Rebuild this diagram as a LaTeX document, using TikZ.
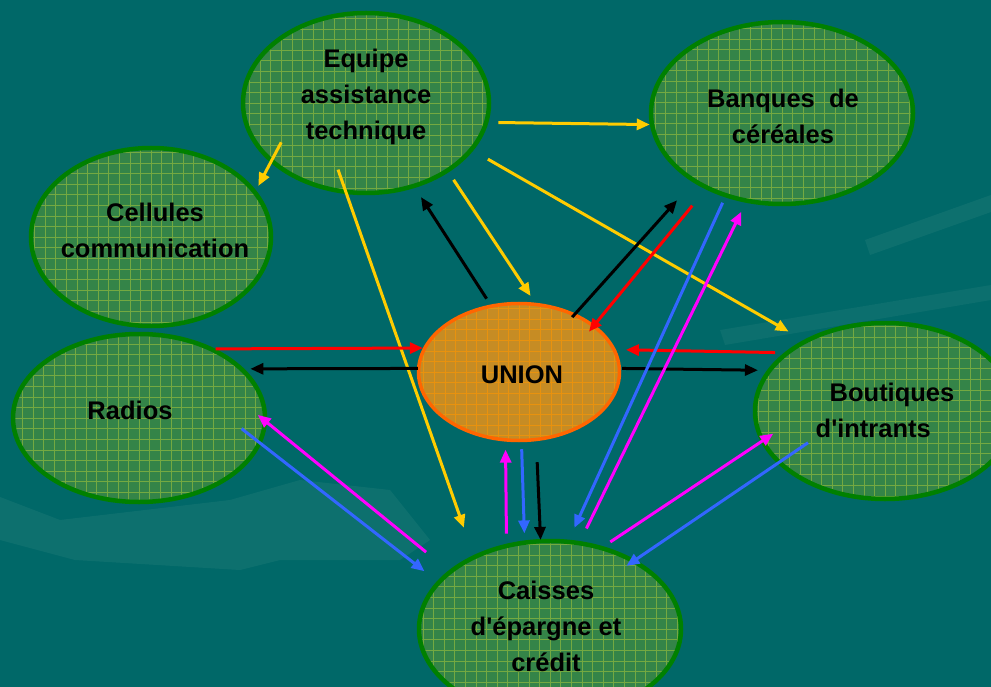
\documentclass[tikz,border=0pt]{standalone}
\usepackage{fontspec}
\setmainfont{Liberation Sans}
\usetikzlibrary{shapes.geometric,arrows.meta}

\begin{document}
\begin{tikzpicture}[x=1pt,y=-1pt,
  bubble/.style={ellipse, draw=bordgreen, line width=4.5pt, fill=fillgreen, inner sep=0pt,
    path picture={\draw[gridgreen, line width=0.5pt, opacity=0.55] (path picture bounding box.south west)
      grid[step=10.6pt] (path picture bounding box.north east);}},
  hub/.style={bubble, draw=bordorange, line width=3.5pt, fill=fillorange,
    path picture={\draw[gridorange, line width=0.6pt, opacity=0.6] (path picture bounding box.south west)
      grid[step=10.6pt] (path picture bounding box.north east);}},
  lbl/.style={align=center, font=\fontsize{25.5}{36}\selectfont\bfseries},
  link/.style={line width=3pt, -{Triangle[length=13pt,width=11pt]}}]
  \definecolor{teal}{RGB}{0,104,104}
  \definecolor{swoosh}{RGB}{40,128,124}
  \definecolor{fillgreen}{RGB}{52,132,72}
  \definecolor{bordgreen}{RGB}{0,128,0}
  \definecolor{gridgreen}{RGB}{170,200,60}
  \definecolor{fillorange}{RGB}{198,140,36}
  \definecolor{bordorange}{RGB}{255,102,0}
  \definecolor{gridorange}{RGB}{255,150,0}
  \definecolor{ylw}{RGB}{255,204,0}
  \definecolor{blu}{RGB}{51,102,255}
  \definecolor{mag}{RGB}{255,0,255}

  \useasboundingbox (0,0) rectangle (991,687);
  \clip (0,0) rectangle (991,687);
  \fill[teal] (0,0) rectangle (991,687);
  \fill[swoosh, opacity=0.35] (0,497) -- (60,520) -- (230,500) -- (300,480) -- (390,490)
    -- (430,540) -- (400,560) -- (280,560) -- (240,570) -- (75,560) -- (0,540) -- cycle;
  \fill[swoosh, opacity=0.35] (865,240) -- (991,195) -- (991,212) -- (870,255) -- cycle;
  \fill[swoosh, opacity=0.3] (720,330) -- (991,285) -- (991,300) -- (725,345) -- cycle;

  \node[bubble, minimum width=246pt, minimum height=180pt] (equipe) at (366,103) {};
  \node[bubble, minimum width=262pt, minimum height=182pt] (banques) at (782,113) {};
  \node[bubble, minimum width=240pt, minimum height=178pt] (cellules) at (151,237) {};
  \node[bubble, minimum width=252pt, minimum height=168pt] (radios) at (139,418) {};
  \node[hub, minimum width=201pt, minimum height=137pt] (union) at (519,372) {};
  \node[bubble, minimum width=260pt, minimum height=176pt] (boutiques) at (885,411) {};
  \node[bubble, minimum width=262pt, minimum height=176pt] (caisses) at (550,629) {};

  \node[lbl] (equipe-t) at (366,97) {Equipe\\assistance\\technique};
  \node[lbl] (banques-t) at (783,116) {Banques~~de\\céréales};
  \node[lbl] (cellules-t) at (155,230) {Cellules\\communication};
  \node[lbl] (radios-t) at (130,410) {Radios};
  \node[lbl] (union-t) at (522,375) {UNION};
  \node[lbl, align=left] (boutiques-t) at (885,410) {\hspace*{14pt}Boutiques\\d\textquotesingle intrants};
  \node[lbl] (caisses-t) at (546,626) {Caisses\\d\textquotesingle épargne et\\crédit};

  \draw[link, ylw, shorten <=-23pt, shorten >=5pt] (equipe.212) -- (cellules.24);
  \draw[link, ylw, shorten <=10pt] (equipe.351) -- (banques.185);
  \draw[link, ylw, shorten <=9pt, shorten >=8pt] (equipe.320) -- (union.77);
  \draw[link, ylw, shorten <=17pt, shorten >=17pt] (equipe.336) -- (boutiques.139);
  \draw[link, ylw, shorten <=-26pt, shorten >=29pt] (equipe.258) -- (caisses.136);

  \draw[link, black, shorten <=7pt, shorten >=11pt] (union.113) -- (equipe.300);
  \draw[link, black, shorten <=-5pt, shorten >=24pt] (union.46) -- (banques.218);
  \draw[link, black, shorten <=-1pt, shorten >=6pt] (union.178) -- (radios.25);
  \draw[link, black, shorten <=1pt, shorten >=9pt] (union.2) -- (boutiques.161);
  \draw[link, black, shorten <=21pt, shorten >=-1pt] (union.284) -- (caisses.96);

  \draw[link, red] (radios.42) -- (union.166);
  \draw[link, red, shorten <=21pt, shorten >=-9pt] (banques.225) -- (union.32);
  \draw[link, red, shorten <=9pt, shorten >=10pt] (boutiques.150) -- (union.13);

  \draw[link, blu, shorten <=7pt, shorten >=7pt] (union.272) -- (caisses.106);
  \draw[link, blu, shorten <=-25pt, shorten >=16pt] (radios.348) -- (caisses.157);
  \draw[link, blu, shorten <=6pt, shorten >=13pt] (banques.236) -- (caisses.78);
  \draw[link, blu, shorten <=-37pt, shorten >=-11pt] (boutiques.206) -- (caisses.39);

  \draw[link, mag, shorten <=10pt, shorten >=8pt] (caisses.117) -- (union.259);
  \draw[link, mag, shorten <=29pt, shorten >=-12pt] (caisses.150) -- (radios.358);
  \draw[link, mag, shorten <=14pt, shorten >=10pt] (caisses.71) -- (banques.248);
  \draw[link, mag, shorten <=8pt, shorten >=-15pt] (caisses.57) -- (boutiques.194);
\end{tikzpicture}
\end{document}
